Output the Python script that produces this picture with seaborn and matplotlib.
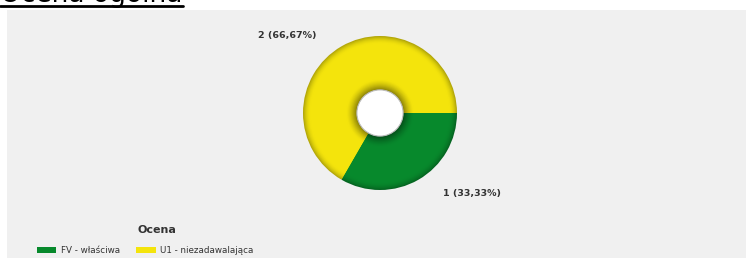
import numpy as np
import matplotlib
matplotlib.use("Agg")
import matplotlib.pyplot as plt
import matplotlib.colors as mcolors
from matplotlib.patches import Patch, Rectangle
import seaborn as sns

# data
categories = ["FV - właściwa", "U1 - niezadawalająca"]
values = [1, 2]
colors = ["#07892C", "#F4E40C"]
title = "Ocena ogólna"
legend_title = "Ocena"

sns.set_style("white")
plt.rcParams['font.family'] = ['DejaVu Sans']

W, H = 746, 262
fig = plt.figure(figsize=(W / 100, H / 100), dpi=100)
fig.patch.set_facecolor("white")

# gray panel
fig.patches.append(Rectangle((7 / W, 4 / H), 1 - 7 / W, (252 - 4) / H,
                             transform=fig.transFigure, facecolor="#F0F0F0",
                             edgecolor="none", zorder=-5))

# title (mostly cut off at the top, underlined)
fig.text(0, 1 - 1.5 / H, title, fontsize=19, color="black", ha="left", va="baseline")
fig.add_artist(plt.Line2D([0, 183 / W], [1 - 5.5 / H, 1 - 5.5 / H], color="black",
                          lw=2, transform=fig.transFigure))

# donut axes, center (380,113) px, radius 77 px
cx, cy, r = 380, 113, 77
half = 80
ax = fig.add_axes([(cx - half) / W, 1 - (cy + half) / H, 2 * half / W, 2 * half / H],
                  zorder=2)
ax.patch.set_alpha(0)
ax.axis("off")

# shaded ring (torus look): stacked full pies, outer to inner, darker near edges
r_in, r_out, n = 0.30, 1.0, 50
edges = np.linspace(r_in, r_out, n + 1)
for i in range(n - 1, -1, -1):
    t = (i + 0.5) / n
    shade = 1.0
    if t > 0.85:
        shade -= 0.3 * ((t - 0.85) / 0.15) ** 2
    if t < 0.2:
        shade -= 0.45 * ((0.2 - t) / 0.2) ** 1.5
    ring_cols = [np.clip(np.array(mcolors.to_rgb(c)) * shade, 0, 1) for c in colors]
    ax.pie(values, colors=ring_cols, radius=edges[i + 1], startangle=0,
           counterclock=False, wedgeprops=dict(edgecolor="none", linewidth=0))
ax.add_patch(plt.Circle((0, 0), r_in, facecolor="white", edgecolor="#BDBDBD",
                        lw=0.8, zorder=5))
ax.set_aspect("equal")
ax.set_xlim(-half / r, half / r)
ax.set_ylim(-half / r, half / r)

# value labels
total = sum(values)
label_pos = [(1.19, -1.04), (-1.21, 1.01)]
for v, (lx, ly) in zip(values, label_pos):
    txt = f"{v} ({100 * v / total:.2f}%)".replace(".", ",")
    ax.text(lx, ly, txt, ha="center", va="center", fontsize=6.8,
            fontweight="bold", color="#333333", clip_on=False)

# legend
fig.text(157 / W, 1 - 230 / H, legend_title, ha="center", va="center",
         fontsize=8, fontweight="bold", color="#333333")
handles = [Patch(facecolor=c, edgecolor="none") for c in colors]
leg = fig.legend(handles, categories, ncol=2, frameon=False,
                 loc="center left", bbox_to_anchor=(29 / W, 1 - 250.5 / H),
                 fontsize=6.3, handlelength=2.2, handleheight=0.8,
                 handletextpad=0.55, columnspacing=1.85, labelcolor="#333333")

fig.savefig("out.png", dpi=100, facecolor="white")
